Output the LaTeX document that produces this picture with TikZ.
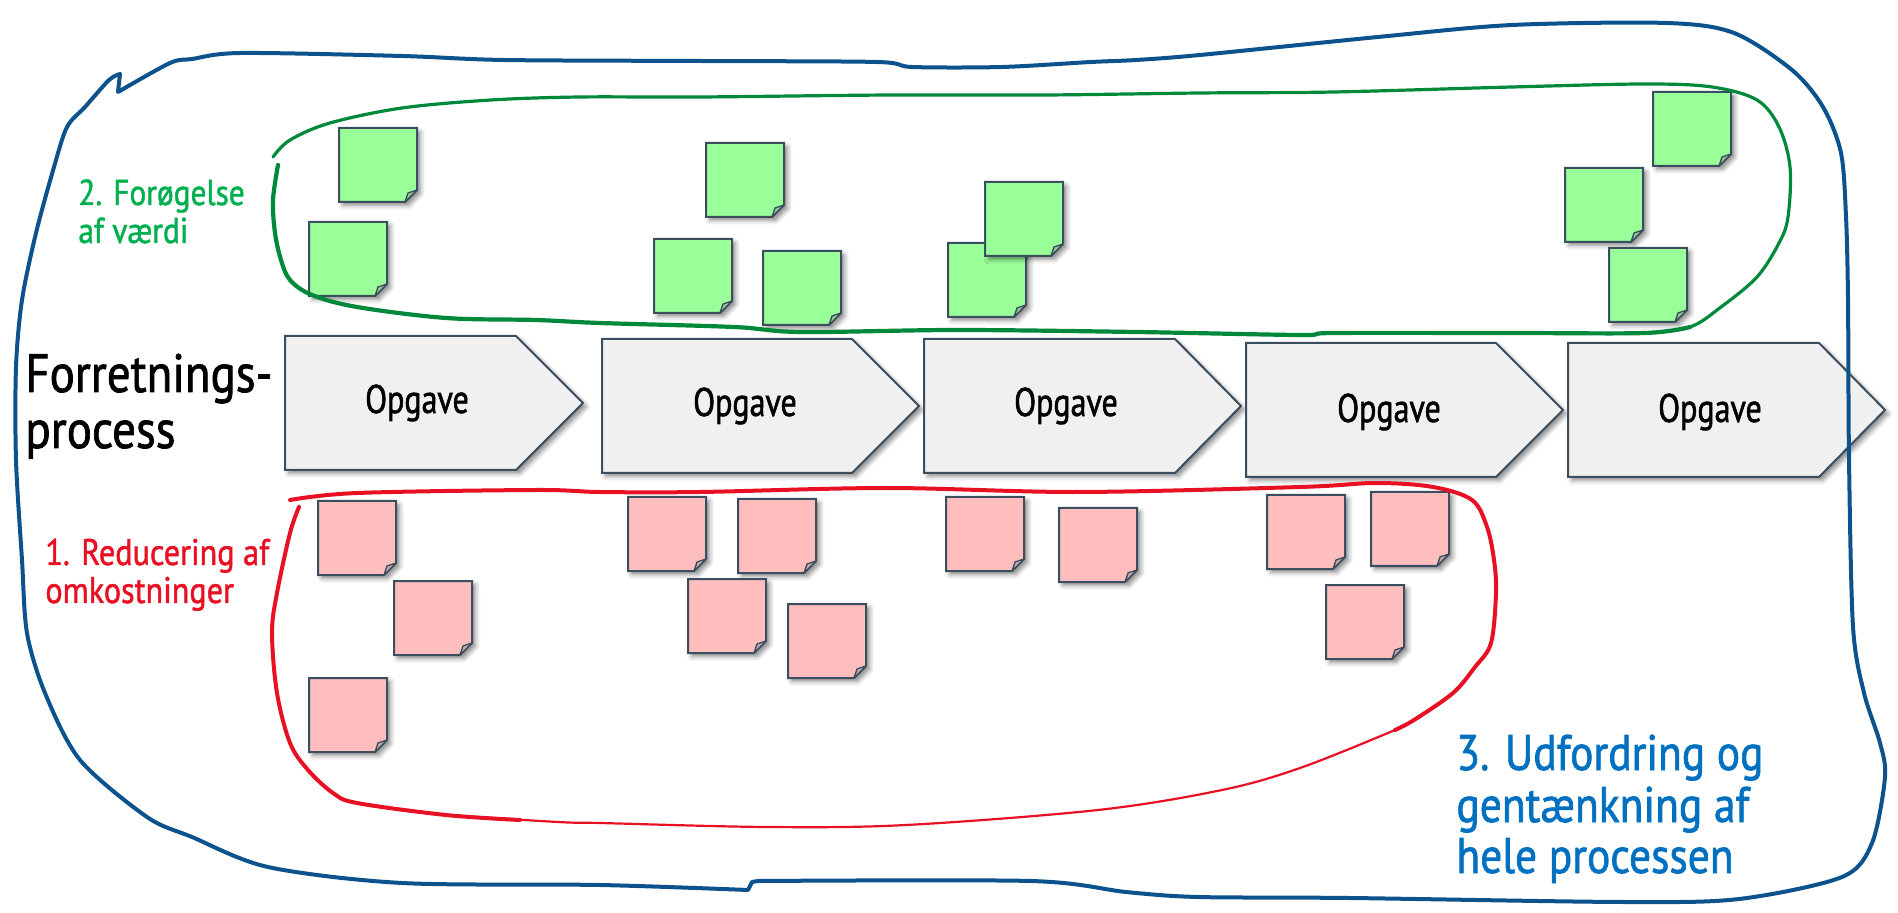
\documentclass[tikz,border=0pt]{standalone}
\usepackage{fontspec}
\setmainfont{PT Sans}
\newfontfamily\hand[FakeStretch=0.8,FakeBold=1.3]{PT Sans}
\newfontfamily\handw[FakeStretch=0.87,FakeBold=1.3]{PT Sans}
\usetikzlibrary{shadows.blur}
\definecolor{edgecol}{RGB}{59,78,96}
\definecolor{chevfill}{RGB}{240,240,240}
\definecolor{gfill}{RGB}{153,255,153}
\definecolor{gfold}{RGB}{150,200,150}
\definecolor{rfill}{RGB}{255,190,190}
\definecolor{rfold}{RGB}{205,170,170}
\definecolor{bline}{RGB}{12,82,140}
\definecolor{btext}{RGB}{0,112,192}
\definecolor{gline}{RGB}{0,137,58}
\definecolor{gtext}{RGB}{0,176,80}
\definecolor{rline}{RGB}{232,17,35}
\begin{document}
\begin{tikzpicture}[x=0.5pt,y=-0.5pt,
  shad/.style={blur shadow={shadow xshift=1.8pt, shadow yshift=-1.8pt, shadow blur radius=2.2pt, shadow opacity=45}},
  chev/.style={draw=edgecol, line width=1pt, fill=chevfill, line join=miter, shad},
  optext/.style={font=\hand\fontsize{20}{24}\selectfont, anchor=base, inner sep=0pt},
  bigtext/.style={font=\handw\fontsize{27}{28}\selectfont, anchor=base west, inner sep=0pt},
  gtxt/.style={font=\handw\fontsize{18}{19}\selectfont, text=gtext, anchor=base west, inner sep=0pt},
  rtxt/.style={font=\handw\fontsize{18.5}{19}\selectfont, text=rline, anchor=base west, inner sep=0pt},
  btxt/.style={font=\handw\fontsize{25}{26}\selectfont, text=btext, anchor=base west, inner sep=0pt},
  loopline/.style={line cap=round, line join=round},
  pics/note/.style 2 args={code={
    \path[draw=edgecol, line width=1pt, fill=#1, shad] (0,0) -- (78,0) -- (78,62) -- (66,74) -- (0,74) -- cycle;
    \path[draw=edgecol, line width=0.7pt, fill=#2, line join=round] (78,62) -- (69,65) -- (66,74) -- cycle;
  }}
]
\useasboundingbox (0,0) rectangle (1898,913);

% process chevrons
\draw[chev] (285,336) -- (516,336) -- (583,403) -- (516,470) -- (285,470) -- cycle;
\draw[chev] (602,339) -- (852,339) -- (919,406) -- (852,473) -- (602,473) -- cycle;
\draw[chev] (924,339) -- (1175,339) -- (1241,406) -- (1175,473) -- (924,473) -- cycle;
\draw[chev] (1246,343) -- (1496,343) -- (1563,410) -- (1496,477) -- (1246,477) -- cycle;
\draw[chev] (1568,343) -- (1819,343) -- (1885,410) -- (1819,477) -- (1568,477) -- cycle;
\node[optext] (t1) at (417,413) {Opgave};
\node[optext] (t2) at (745,416) {Opgave};
\node[optext] (t3) at (1066,416) {Opgave};
\node[optext] (t4) at (1389,422) {Opgave};
\node[optext] (t5) at (1710,422) {Opgave};

% green notes
\pic (g1) at (339,128) {note={gfill}{gfold}};
\pic (g2) at (309,222) {note={gfill}{gfold}};
\pic (g3) at (706,143) {note={gfill}{gfold}};
\pic (g4) at (654,239) {note={gfill}{gfold}};
\pic (g5) at (763,251) {note={gfill}{gfold}};
\pic (g6) at (948,243) {note={gfill}{gfold}};
\pic (g7) at (985,182) {note={gfill}{gfold}};
\pic (g8) at (1653,92) {note={gfill}{gfold}};
\pic (g9) at (1565,168) {note={gfill}{gfold}};
\pic (g10) at (1609,248) {note={gfill}{gfold}};

% red notes
\pic (r1) at (318,501) {note={rfill}{rfold}};
\pic (r2) at (394,581) {note={rfill}{rfold}};
\pic (r3) at (309,678) {note={rfill}{rfold}};
\pic (r4) at (628,497) {note={rfill}{rfold}};
\pic (r5) at (738,499) {note={rfill}{rfold}};
\pic (r6) at (688,579) {note={rfill}{rfold}};
\pic (r7) at (788,604) {note={rfill}{rfold}};
\pic (r8) at (946,497) {note={rfill}{rfold}};
\pic (r9) at (1059,508) {note={rfill}{rfold}};
\pic (r10) at (1267,495) {note={rfill}{rfold}};
\pic (r11) at (1371,492) {note={rfill}{rfold}};
\pic (r12) at (1326,585) {note={rfill}{rfold}};

% green loop
\draw[loopline, gline, line width=1.6pt] plot[smooth, tension=0.55] coordinates {(273,157) (290,140) (330,123) (402,108) (491,100) (580,97) (700,97) (890,95) (1046,95) (1200,93) (1334,92) (1512,87) (1645,84) (1712,87) (1757,100) (1779,127) (1790,167) (1788,217) (1779,243) (1757,277) (1721,307) (1690,327) (1645,333)};
\draw[loopline, gline, line width=2.1pt] plot[smooth, tension=0.55] coordinates {(1690,327) (1645,333) (1512,333) (1334,333) (1300,335) (1136,332) (957,330) (801,332) (734,327) (600,323) (536,320) (446,318) (357,307) (312,295) (290,280) (281,260) (275,233) (273,200) (278,165)};

% red loop
\draw[loopline, rline, line width=2pt] plot[smooth, tension=0.55] coordinates {(290,500) (357,493) (536,490) (600,492) (700,492) (887,488) (1078,492) (1300,487) (1376,483) (1433,487) (1472,500) (1487,527) (1494,560) (1496,593) (1491,643) (1475,667) (1453,693) (1414,720) (1395,730)};
\draw[loopline, rline, line width=1.1pt] plot[smooth, tension=0.55] coordinates {(1453,693) (1414,720) (1395,730) (1300,768) (1222,790) (1098,810) (906,825) (767,827) (600,823) (558,822) (446,815)};
\draw[loopline, rline, line width=2pt] plot[smooth, tension=0.55] coordinates {(299,507) (290,533) (277,593) (272,633) (277,693) (290,743) (308,770) (333,793) (357,803) (446,815) (520,820)};

% blue outer loop
\draw[loopline, bline, line width=2pt] plot[smooth, tension=0.5] coordinates {(120,74) (109,80) (85,107) (67,127) (54,167) (36,233) (22,300) (16,367) (16,460) (22,560) (27,633) (45,693) (80,760) (147,817) (192,837) (268,867) (402,883) (600,885) (748,890)} -- (752,882) -- plot[smooth, tension=0.5] coordinates {(758,881) (1031,881) (1126,892) (1198,897) (1350,898) (1624,902) (1739,899) (1842,877) (1872,843) (1885,777) (1880,743) (1864,693) (1853,627) (1849,460) (1848,300) (1846,217) (1841,153) (1823,107) (1792,70) (1734,33) (1667,23) (1512,25) (1378,37) (1200,55) (1136,60) (1091,62) (1002,67) (912,67) (877,62) (700,61) (504,60) (402,56) (241,53) (192,59) (170,63) (118,92)} -- (120,74);

% labels
\node[bigtext] (fp1) at (25,392) {Forretnings-};
\node[bigtext] (fp2) at (25,448) {process};
\node[gtxt] (gl1) at (78,205) {2. Forøgelse};
\node[gtxt] (gl2) at (78,243) {af værdi};
\node[rtxt] (rl1) at (45,565) {1. Reducering af};
\node[rtxt] (rl2) at (45,603) {omkostninger};
\node[btxt] (bl1) at (1456,770) {3. Udfordring og};
\node[btxt] (bl2) at (1456,822) {gentænkning af};
\node[btxt] (bl3) at (1456,873) {hele processen};
\end{tikzpicture}
\end{document}
